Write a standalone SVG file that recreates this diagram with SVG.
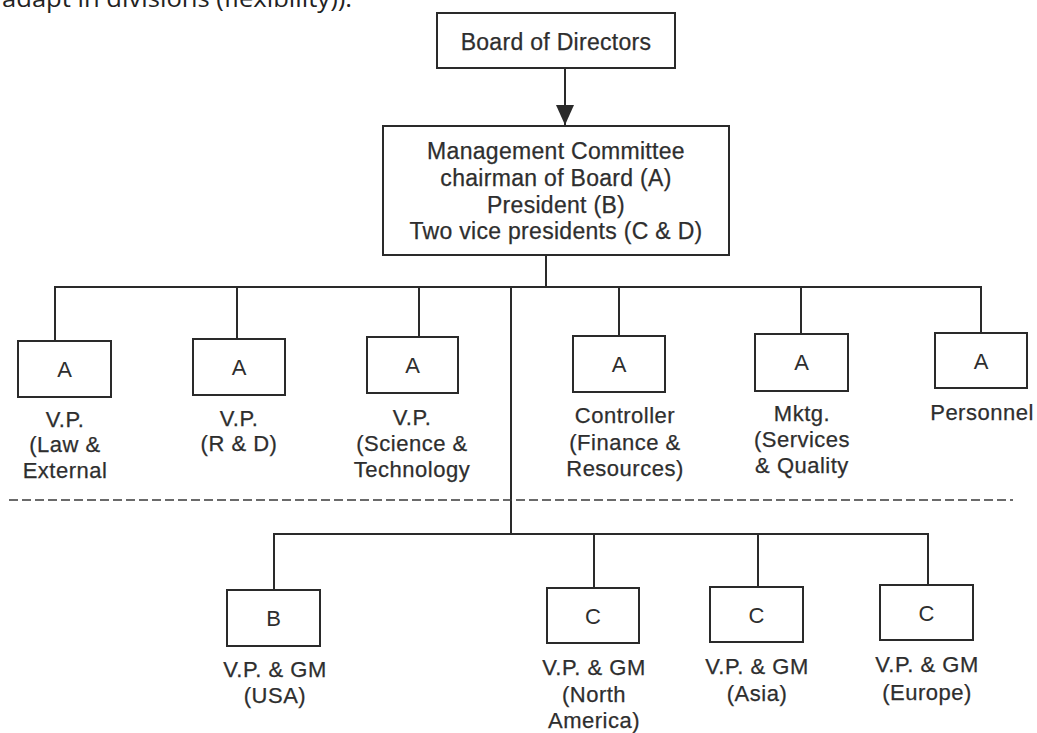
<svg xmlns="http://www.w3.org/2000/svg" width="1037" height="733" viewBox="0 0 1037 733">
<style>
.box{fill:#fff;stroke:#2a2a2a;stroke-width:2}
.ln{stroke:#2a2a2a;stroke-width:2;fill:none}
.dash{stroke:#3a3a3a;stroke-width:1.6;fill:none;stroke-dasharray:9 4}
.t{font-family:"Liberation Sans",Arial,sans-serif;font-size:22px;fill:#2e2e2e;stroke:#2e2e2e;stroke-width:0.25;text-anchor:middle;letter-spacing:0.5px}
.big{font-size:23px;letter-spacing:0.3px}
.ltr{font-size:22px;letter-spacing:0;stroke-width:0}
.top{font-family:"Open Sans","Liberation Sans",sans-serif;font-size:24px;fill:#222}
</style>
<defs>
<marker id="ah" viewBox="0 0 20 20" refX="20" refY="10" markerWidth="20" markerHeight="20" markerUnits="userSpaceOnUse" orient="auto">
<path d="M0,1 L20,10 L0,19 Z" fill="#2a2a2a"/>
</marker>
</defs>
<rect width="1037" height="733" fill="#fff"/>
<text class="top" x="2" y="7" textLength="350" lengthAdjust="spacingAndGlyphs">adapt in divisions (flexibility)).</text>

<g id="connectors">
<line class="ln" x1="565" y1="68" x2="565" y2="125" marker-end="url(#ah)"/>
<line class="ln" x1="546" y1="255" x2="546" y2="287"/>
<path class="ln" d="M55,341 V287 H981 V333"/>
<line class="ln" x1="237" y1="287" x2="237" y2="339"/>
<line class="ln" x1="419" y1="287" x2="419" y2="337"/>
<line class="ln" x1="619" y1="287" x2="619" y2="336"/>
<line class="ln" x1="801" y1="287" x2="801" y2="334"/>
<line class="ln" x1="511" y1="287" x2="511" y2="534"/>
<path class="ln" d="M274,590 V534 H928 V585"/>
<line class="ln" x1="594" y1="534" x2="594" y2="588"/>
<line class="ln" x1="758" y1="534" x2="758" y2="587"/>
<line class="dash" x1="9" y1="500" x2="1013" y2="500"/>
</g>

<g id="board">
<rect class="box" x="437" y="13" width="238" height="55"/>
<text class="t big" x="556" y="50">Board of Directors</text>
</g>

<g id="management">
<rect class="box" x="383" y="126" width="346" height="129"/>
<text class="t big" x="556" y="159">Management Committee</text>
<text class="t big" x="556" y="186">chairman of Board (A)</text>
<text class="t big" x="556" y="213">President (B)</text>
<text class="t big" x="556" y="239">Two vice presidents (C &amp; D)</text>
</g>

<g id="vp-law">
<rect class="box" x="18" y="341" width="93" height="56"/>
<text class="t ltr" x="64.5" y="377">A</text>
<text class="t" x="65" y="427">V.P.</text>
<text class="t" x="65" y="452">(Law &amp;</text>
<text class="t" x="65" y="478">External</text>
</g>

<g id="vp-rd">
<rect class="box" x="193" y="339" width="92" height="56"/>
<text class="t ltr" x="239" y="375">A</text>
<text class="t" x="239" y="426">V.P.</text>
<text class="t" x="239" y="451">(R &amp; D)</text>
</g>

<g id="vp-science">
<rect class="box" x="367" y="337" width="91" height="56"/>
<text class="t ltr" x="412.5" y="373">A</text>
<text class="t" x="412" y="425">V.P.</text>
<text class="t" x="412" y="451">(Science &amp;</text>
<text class="t" x="412" y="477">Technology</text>
</g>

<g id="controller">
<rect class="box" x="573" y="336" width="92" height="56"/>
<text class="t ltr" x="619" y="372">A</text>
<text class="t" x="625" y="423">Controller</text>
<text class="t" x="625" y="450">(Finance &amp;</text>
<text class="t" x="625" y="476">Resources)</text>
</g>

<g id="mktg">
<rect class="box" x="755" y="334" width="93" height="57"/>
<text class="t ltr" x="801.5" y="370">A</text>
<text class="t" x="802" y="421">Mktg.</text>
<text class="t" x="802" y="447">(Services</text>
<text class="t" x="802" y="473">&amp; Quality</text>
</g>

<g id="personnel">
<rect class="box" x="935" y="333" width="92" height="55"/>
<text class="t ltr" x="981" y="369">A</text>
<text class="t" x="982" y="420">Personnel</text>
</g>

<g id="gm-usa">
<rect class="box" x="227" y="590" width="93" height="56"/>
<text class="t ltr" x="273.5" y="626">B</text>
<text class="t" x="275" y="677">V.P. &amp; GM</text>
<text class="t" x="275" y="703">(USA)</text>
</g>

<g id="gm-north-america">
<rect class="box" x="547" y="588" width="92" height="55"/>
<text class="t ltr" x="593" y="624">C</text>
<text class="t" x="594" y="675">V.P. &amp; GM</text>
<text class="t" x="594" y="702">(North</text>
<text class="t" x="594" y="728">America)</text>
</g>

<g id="gm-asia">
<rect class="box" x="710" y="587" width="93" height="55"/>
<text class="t ltr" x="756.5" y="623">C</text>
<text class="t" x="757" y="674">V.P. &amp; GM</text>
<text class="t" x="757" y="701">(Asia)</text>
</g>

<g id="gm-europe">
<rect class="box" x="880" y="585" width="93" height="55"/>
<text class="t ltr" x="926.5" y="621">C</text>
<text class="t" x="927" y="672">V.P. &amp; GM</text>
<text class="t" x="927" y="700">(Europe)</text>
</g>
</svg>
